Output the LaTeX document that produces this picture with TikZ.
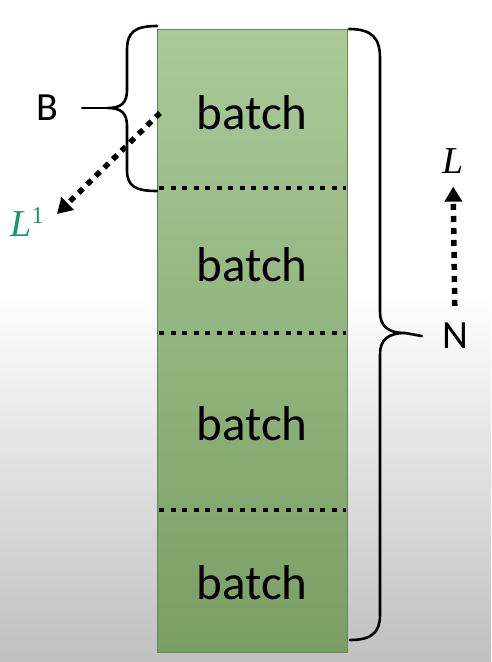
\documentclass[tikz,border=0pt]{standalone}
\usepackage{fontspec}
\setmainfont{Carlito}
\newfontfamily\lserif{Liberation Serif}
\usetikzlibrary{arrows.meta}
\definecolor{bggray}{RGB}{192,192,192}
\definecolor{gtop}{RGB}{170,202,152}
\definecolor{gbot}{RGB}{122,158,100}
\definecolor{lgreen}{RGB}{24,150,110}
\pgfdeclareverticalshading{bgshade}{100bp}{color(0bp)=(bggray); color(25bp)=(bggray); color(53bp)=(white); color(100bp)=(white)}
\begin{document}
\begin{tikzpicture}[x=1pt,y=-1pt,
  lbl/.style={font=\fontsize{49}{49}\selectfont, inner sep=0pt},
  side/.style={font=\fontsize{40}{40}\selectfont, inner sep=0pt},
  mathlbl/.style={font=\lserif\fontsize{38}{38}\selectfont, inner sep=0pt},
  sepline/.style={line width=4pt, dash pattern=on 5pt off 6.5pt},
  darrow/.style={line width=5.5pt, dash pattern=on 6pt off 6pt, -{Triangle[length=15pt,width=17pt]}},
  brace/.style={line width=2.6pt, line join=round, line cap=round}]
\fill[shading=bgshade] (0,0) rectangle (491,662);
\useasboundingbox (0,0) rectangle (491,662);
% column
\node[draw=gbot!85!black, line width=0.6pt, top color=gtop, bottom color=gbot,
  minimum width=190pt, minimum height=623pt, inner sep=0pt, anchor=north west] (col) at (157,29) {};
% separators
\coordinate (s1a) at (159,188); \coordinate (s1b) at (346,188);
\coordinate (s2a) at (159,333); \coordinate (s2b) at (346,333);
\coordinate (s3a) at (159,510); \coordinate (s3b) at (346,510);
\draw[sepline] (s1a) -- (s1b);
\draw[sepline] (s2a) -- (s2b);
\draw[sepline] (s3a) -- (s3b);
% batch labels
\node[lbl] (b1) at (252,113) {batch};
\node[lbl] (b2) at (252,265) {batch};
\node[lbl] (b3) at (252,424) {batch};
\node[lbl] (b4) at (252,583) {batch};
% left brace
\draw[brace] (157,26) .. controls (135,26) and (127,32) .. (127,50) -- (127,90)
  .. controls (127,103) and (121,108) .. (108,108)
  .. controls (121,108) and (127,113) .. (127,126) -- (127,170)
  .. controls (127,186) and (135,191) .. (157,191);
\node[side] (B) at (47,108) {B};
\coordinate (btip) at (108,108);
\draw[brace] ([xshift=24pt]B.east) -- (btip);
% right brace
\draw[brace] (349,29) .. controls (372,29) and (380,38) .. (380,58) -- (380,312)
  .. controls (380,326) and (388,333) .. (405,333)
  .. controls (388,333) and (380,340) .. (380,354) -- (380,615)
  .. controls (380,632) and (372,640) .. (350,640);
\node[side] (N) at (455,336) {N};
\coordinate (ntip) at (405,333);
\draw[brace] (ntip) -- ([xshift=-20pt]N.west);
% L arrow
\node[mathlbl] (L) at (453,161) {\itshape L};
\draw[darrow, shorten <=17pt, shorten >=13pt] (N.north) -- (L.south);
% L^1 arrow
\node[mathlbl, text=lgreen] (L1) at (27,222) {\itshape L\/\upshape\raisebox{13pt}{\fontsize{24}{24}\selectfont 1}};
\coordinate (astart) at (160,113);
\draw[darrow] (astart) -- (57,214);
\end{tikzpicture}
\end{document}
